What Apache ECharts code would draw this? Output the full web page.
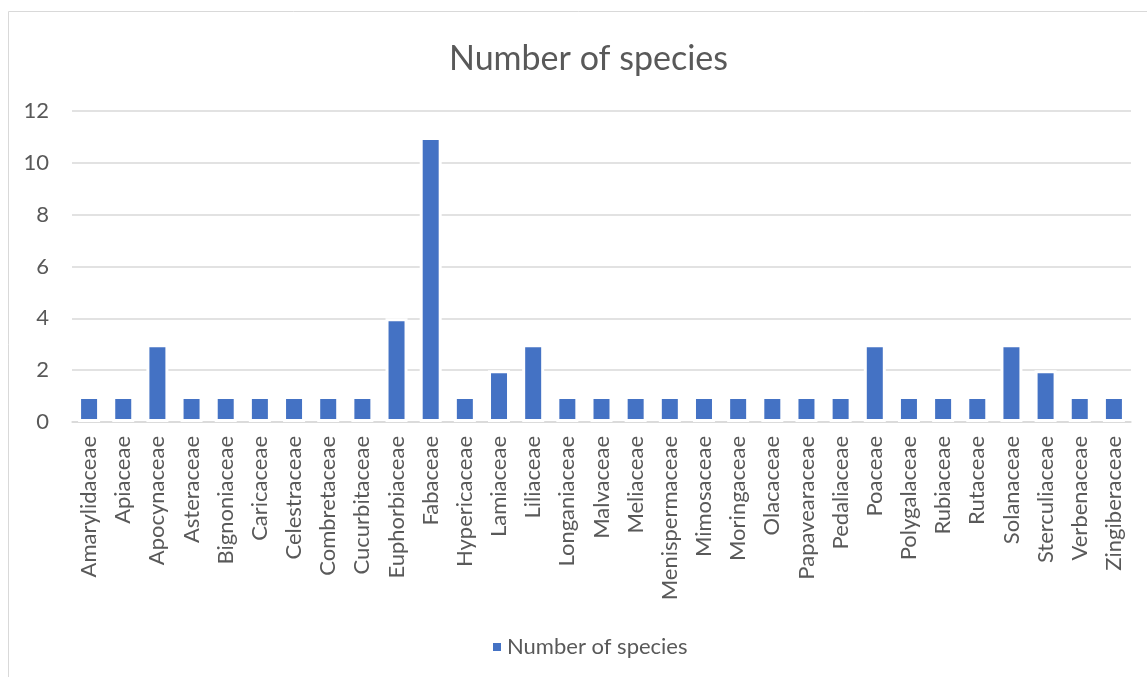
<!DOCTYPE html>
<html><head><meta charset="utf-8">
<script src="https://cdn.jsdelivr.net/npm/echarts@6/dist/echarts.min.js"></script>
<style>html,body{margin:0;padding:0;background:#fff}#c{width:1147px;height:677px}</style>
</head><body><div id="c"></div>
<script>
const categories = ["Amarylidaceae","Apiaceae","Apocynaceae","Asteraceae","Bignoniaceae","Caricaceae","Celestraceae","Combretaceae","Cucurbitaceae","Euphorbiaceae","Fabaceae","Hypericaceae","Lamiaceae","Liliaceae","Longaniaceae","Malvaceae","Meliaceae","Menispermaceae","Mimosaceae","Moringaceae","Olacaceae","Papavearaceae","Pedaliaceae","Poaceae","Polygalaceae","Rubiaceae","Rutaceae","Solanaceae","Sterculiaceae","Verbenaceae","Zingiberaceae"];
const speciesCounts = [1,1,3,1,1,1,1,1,1,4,11,1,2,3,1,1,1,1,1,1,1,1,1,3,1,1,1,3,2,1,1];
const yTicks = {min:0, max:12, interval:2};
const seriesName = "Number of species";
const FONT = "Lato";
const chart = echarts.init(document.getElementById('c'));
chart.setOption({
  animation:false,
  textStyle:{fontFamily:FONT,color:'#595959'},
  title:{text:seriesName,left:444,top:37,textStyle:{fontFamily:FONT,fontSize:34,fontWeight:'normal',color:'#595959'}},
  legend:{bottom:14,left:486,itemWidth:10,itemHeight:10,icon:'rect',itemGap:8,textStyle:{fontFamily:FONT,fontSize:22,color:'#595959'},data:[seriesName]},
  graphic:[{type:'rect',shape:{x:8.5,y:11.5,width:1300,height:1000},style:{fill:'none',stroke:'#d9d9d9',lineWidth:1},silent:true}],
  grid:{left:72,right:16,top:111,bottom:255,containLabel:false},
  xAxis:{type:'category',data:categories,
    axisLine:{lineStyle:{color:'#d9d9d9',width:1.5}},axisTick:{show:false},
    axisLabel:{rotate:90,interval:0,margin:14,fontSize:22,color:'#595959',fontFamily:FONT}},
  yAxis:{type:'value',min:yTicks.min,max:yTicks.max,interval:yTicks.interval,
    axisLine:{show:false},axisTick:{show:false},
    axisLabel:{margin:23,fontSize:22,color:'#595959',fontFamily:FONT},
    splitLine:{lineStyle:{color:'#d9d9d9',width:1.5}}},
  series:[{name:seriesName,type:'bar',data:speciesCounts,barWidth:22,
    itemStyle:{color:'#4472C4',borderColor:'#ffffff',borderWidth:3}}]
});
</script></body></html>
